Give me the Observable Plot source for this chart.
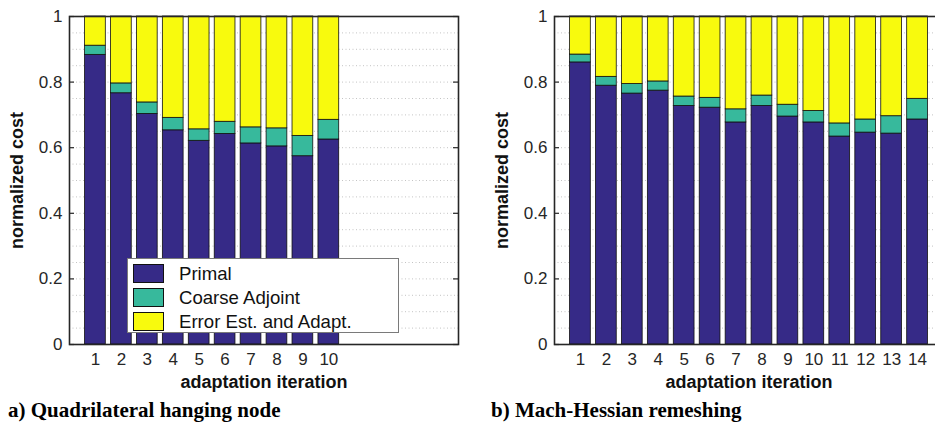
<!DOCTYPE html>
<html>
<head>
<meta charset="utf-8">
<script src="https://cdn.jsdelivr.net/npm/d3@7"></script>
<script src="https://cdn.jsdelivr.net/npm/@observablehq/plot@0.6"></script>
<style>
  html, body { margin: 0; padding: 0; background: #fff; overflow: hidden; }
  #fig { position: relative; width: 935px; height: 424px; overflow: hidden;
         font-family: "Liberation Sans", Arial, Helvetica, sans-serif; color: #262626; }
  .panel { position: absolute; top: 0; width: 480px; }
  .panel svg { overflow: visible; max-width: none !important; }
  .caption { position: absolute; top: 400px; line-height: 21px; white-space: nowrap;
             font-family: "Liberation Serif", "Times New Roman", serif; font-weight: bold; font-size: 21px; color: #000; }
  .legend { position: absolute; left: 127px; top: 258px; width: 272px; height: 75px; box-sizing: border-box;
            background: #fff; border: 1px solid #7a7a7a; padding-top: 2px; }
  .legend .row { position: relative; height: 24px; }
  .legend .sw { position: absolute; left: 5px; top: 3px; width: 31px; height: 19px; box-sizing: border-box; border: 1px solid #111; }
  .legend .lb { position: absolute; left: 51px; top: 0; line-height: 25px; font-size: 18.6px; color: #111; white-space: nowrap; }
</style>
</head>
<body>
<div id="fig"></div>
<script>
// Cost components, as fractions of the total cost of each adaptation iteration
const parts = ["Primal", "Coarse Adjoint", "Error Est. and Adapt."];
const partColors = ["#362a87", "#37b99c", "#f8fa0d"];

// a) Quadrilateral hanging node
const quadIterations = [1, 2, 3, 4, 5, 6, 7, 8, 9, 10];
const quadPrimal   = [0.883, 0.766, 0.703, 0.653, 0.621, 0.642, 0.613, 0.604, 0.574, 0.625];
const quadAdjoint  = [0.028, 0.030, 0.035, 0.038, 0.035, 0.037, 0.049, 0.055, 0.062, 0.060];
const quadErrorEst = [0.089, 0.204, 0.262, 0.309, 0.344, 0.321, 0.338, 0.341, 0.364, 0.315];

// b) Mach-Hessian remeshing
const machIterations = [1, 2, 3, 4, 5, 6, 7, 8, 9, 10, 11, 12, 13, 14];
const machPrimal   = [0.860, 0.789, 0.765, 0.774, 0.727, 0.722, 0.677, 0.727, 0.695, 0.677, 0.634, 0.646, 0.643, 0.686];
const machAdjoint  = [0.024, 0.027, 0.029, 0.028, 0.029, 0.030, 0.040, 0.032, 0.036, 0.035, 0.040, 0.040, 0.053, 0.063];
const machErrorEst = [0.116, 0.184, 0.206, 0.198, 0.244, 0.248, 0.283, 0.241, 0.269, 0.288, 0.326, 0.314, 0.304, 0.251];

const yTicks = [0, 0.2, 0.4, 0.6, 0.8, 1];
const gridLevels = d3.range(1, 20).map(k => k / 20);
const xTitle = "adaptation iteration";
const yTitle = "normalized cost";

function costPanel({iterations, primal, adjoint, errorEst, width, marginLeft, marginRight}) {
  const rows = [];
  iterations.forEach((it, i) => {
    rows.push({iter: it, part: parts[0], value: primal[i]});
    rows.push({iter: it, part: parts[1], value: adjoint[i]});
    rows.push({iter: it, part: parts[2], value: errorEst[i]});
  });
  const innerWidth = width - marginLeft - marginRight;
  const barHalf = 0.4;
  return Plot.plot({
    width, height: 424,
    marginLeft, marginRight, marginTop: 16, marginBottom: 80,
    style: {fontFamily: '"Liberation Sans", Arial, Helvetica, sans-serif', fontSize: "17px",
            background: "transparent", color: "#262626"},
    x: {type: "linear", domain: [0, 15], ticks: iterations, tickFormat: d => String(d),
        tickSize: 0, tickPadding: 8, label: null},
    y: {domain: [0, 1], ticks: yTicks, tickFormat: d => String(+d.toFixed(1)),
        tickSize: 0, tickPadding: 7, label: null},
    color: {domain: parts, range: partColors},
    marks: [
      Plot.ruleY(gridLevels, {stroke: "#c4c4c4", strokeDasharray: "1,2.5", strokeWidth: 1}),
      Plot.rectY(rows, {x: "iter", x1: d => d.iter - barHalf, x2: d => d.iter + barHalf,
                        y: "value", fill: "part", stroke: "#111", strokeWidth: 0.8}),
      Plot.tickY(yTicks, {y: d => d, insetRight: innerWidth - 5, stroke: "#262626", strokeWidth: 1.2}),
      Plot.tickY(yTicks, {y: d => d, insetLeft: innerWidth - 5, stroke: "#262626", strokeWidth: 1.2}),
      Plot.frame({stroke: "#262626", strokeWidth: 1.6}),
      Plot.text([xTitle], {frameAnchor: "bottom", dy: 43, text: d => d,
                           fontWeight: "bold", fontSize: 18, fill: "#111"}),
      Plot.text([yTitle], {frameAnchor: "left", dx: -52, rotate: -90, text: d => d, textAnchor: "middle",
                           fontWeight: "bold", fontSize: 18, fill: "#111"})
    ]
  });
}

const fig = document.getElementById("fig");

function place(node, left) {
  const wrap = document.createElement("div");
  wrap.className = "panel";
  wrap.style.left = left + "px";
  node.style.maxWidth = "none";
  wrap.appendChild(node);
  fig.appendChild(wrap);
  return wrap;
}

place(costPanel({iterations: quadIterations, primal: quadPrimal, adjoint: quadAdjoint, errorEst: quadErrorEst,
                 width: 465, marginLeft: 69, marginRight: 7}), 0);
place(costPanel({iterations: machIterations, primal: machPrimal, adjoint: machAdjoint, errorEst: machErrorEst,
                 width: 480, marginLeft: 89, marginRight: 2}), 465);

// Legend inside the first panel
const legend = document.createElement("div");
legend.className = "legend";
parts.forEach((p, i) => {
  const row = document.createElement("div");
  row.className = "row";
  const sw = document.createElement("span");
  sw.className = "sw";
  sw.style.background = partColors[i];
  const lb = document.createElement("span");
  lb.className = "lb";
  lb.textContent = p;
  row.appendChild(sw);
  row.appendChild(lb);
  legend.appendChild(row);
});
fig.appendChild(legend);

// Panel captions
[["a) Quadrilateral hanging node", 8], ["b) Mach-Hessian remeshing", 491]].forEach(([t, x]) => {
  const c = document.createElement("div");
  c.className = "caption";
  c.style.left = x + "px";
  c.textContent = t;
  fig.appendChild(c);
});
</script>
</body>
</html>
